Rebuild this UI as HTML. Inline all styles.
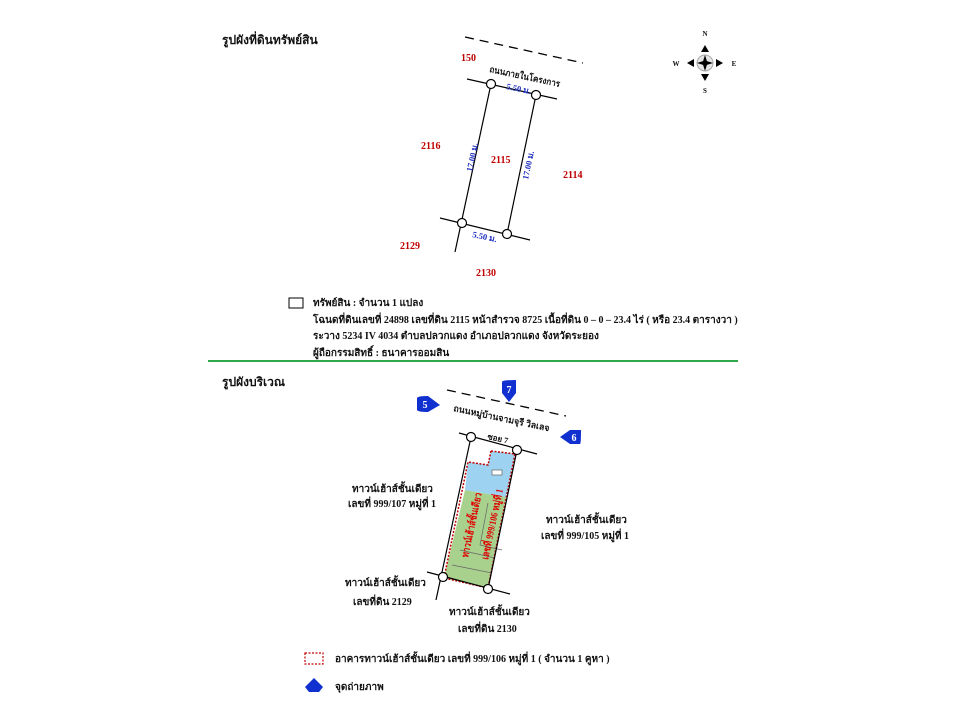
<!DOCTYPE html>
<html><head><meta charset="utf-8"><style>
html,body{margin:0;padding:0;background:#fff;width:960px;height:720px;overflow:hidden}
svg{display:block}
text{font-family:"Liberation Serif","Noto Serif CJK SC","Noto Sans CJK SC",serif;font-weight:bold}
</style></head><body>
<svg width="960" height="720" viewBox="0 0 960 720" xmlns="http://www.w3.org/2000/svg">
<text x="222" y="44" font-size="12" fill="#111">รูปผังที่ดินทรัพย์สิน</text>
<text x="222" y="386" font-size="12" fill="#111">รูปผังบริเวณ</text>

<g transform="translate(705,63)">
<circle r="8" fill="#e4e4e4" stroke="#aaa" stroke-width="1"/>
<polygon points="0,-8 2.5,0 0,8 -2.5,0" fill="#000"/>
<polygon points="-8,0 0,-2.5 8,0 0,2.5" fill="#000"/>
<polygon points="0,-18 -4,-11 4,-11" fill="#000"/>
<polygon points="0,18 -4,11 4,11" fill="#000"/>
<polygon points="-18,0 -11,-4 -11,4" fill="#000"/>
<polygon points="18,0 11,-4 11,4" fill="#000"/>
<text x="0" y="-27" font-size="7" text-anchor="middle" font-family="Liberation Sans" font-weight="normal" fill="#111">N</text>
<text x="0" y="30" font-size="7" text-anchor="middle" font-family="Liberation Sans" font-weight="normal" fill="#111">S</text>
<text x="-29" y="3" font-size="7" text-anchor="middle" font-family="Liberation Sans" font-weight="normal" fill="#111">W</text>
<text x="29" y="3" font-size="7" text-anchor="middle" font-family="Liberation Sans" font-weight="normal" fill="#111">E</text>
</g>

<line x1="465" y1="37" x2="583" y2="63" stroke="#000" stroke-width="1.3" stroke-dasharray="9,6"/>
<line x1="467" y1="79" x2="557" y2="99" stroke="#000" stroke-width="1.2"/>
<line x1="440" y1="218" x2="530" y2="240" stroke="#000" stroke-width="1.2"/>
<line x1="491" y1="84" x2="455" y2="252" stroke="#000" stroke-width="1.2"/>
<line x1="536" y1="95" x2="507" y2="234" stroke="#000" stroke-width="1.2"/>
<g fill="#fff" stroke="#000" stroke-width="1.2">
<circle cx="491" cy="84" r="4.5"/><circle cx="536" cy="95" r="4.5"/>
<circle cx="462" cy="223" r="4.5"/><circle cx="507" cy="234" r="4.5"/>
</g>
<text x="461" y="61" font-size="10" fill="#c00000">150</text>
<text transform="translate(489,72) rotate(12)" font-size="9" fill="#111" textLength="72" lengthAdjust="spacingAndGlyphs">ถนนภายในโครงการ</text>
<text transform="translate(506,89) rotate(12)" font-size="8.5" fill="#1f2fbf">5.50 ม.</text>
<text transform="translate(472,237) rotate(12)" font-size="8.5" fill="#1f2fbf">5.50 ม.</text>
<text transform="translate(472,172) rotate(-78)" font-size="8.5" fill="#1f2fbf">17.00 ม.</text>
<text transform="translate(528,180) rotate(-78)" font-size="8.5" fill="#1f2fbf">17.00 ม.</text>
<text x="421" y="149" font-size="10" fill="#c00000">2116</text>
<text x="491" y="163" font-size="10" fill="#c00000">2115</text>
<text x="563" y="178" font-size="10" fill="#c00000">2114</text>
<text x="400" y="249" font-size="10" fill="#c00000">2129</text>
<text x="476" y="276" font-size="10" fill="#c00000">2130</text>

<rect x="289" y="298" width="14" height="10" fill="#fff" stroke="#000" stroke-width="1"/>
<g font-size="10" fill="#111">
<text x="313" y="306">ทรัพย์สิน : จำนวน 1 แปลง</text>
<text x="313" y="323">โฉนดที่ดินเลขที่ 24898 เลขที่ดิน 2115 หน้าสำรวจ 8725 เนื้อที่ดิน 0 – 0 – 23.4 ไร่ ( หรือ 23.4 ตารางวา )</text>
<text x="313" y="339">ระวาง 5234 IV 4034 ตำบลปลวกแดง อำเภอปลวกแดง จังหวัดระยอง</text>
<text x="313" y="356">ผู้ถือกรรมสิทธิ์ : ธนาคารออมสิน</text>
</g>
<line x1="208" y1="361" x2="738" y2="361" stroke="#2ea84a" stroke-width="2"/>

<line x1="447" y1="390" x2="566" y2="416" stroke="#000" stroke-width="1.3" stroke-dasharray="9,6"/>
<text transform="translate(453,411) rotate(12)" font-size="9" fill="#111" textLength="98" lengthAdjust="spacingAndGlyphs">ถนนหมู่บ้านจามจุรี วิลเลจ</text>
<text transform="translate(487,439) rotate(12)" font-size="8" fill="#111">ซอย 7</text>
<polygon points="465,490 506,497 488,588 444,578" fill="#a9d18e"/>
<polygon points="491,451 515,454 506,497 465,490 468,462 488,465" fill="#9dd3f0"/>
<polygon points="491,451 515,454 488,588 444,578 468,462 488,465" fill="none" stroke="#c00000" stroke-width="1.5" stroke-dasharray="2,1.5"/>
<g stroke="#666" stroke-width="0.7" fill="none">
<line x1="488" y1="503" x2="480" y2="545"/>
<line x1="480" y1="545" x2="502" y2="550"/>
<line x1="460" y1="550" x2="495" y2="558"/>
<line x1="452" y1="565" x2="492" y2="573"/>
<rect x="492" y="470" width="10" height="5" fill="#fff"/>
</g>
<text transform="translate(468,558) rotate(-78)" font-size="10" fill="#e00000" textLength="66" lengthAdjust="spacingAndGlyphs">ทาวน์เฮ้าส์ชั้นเดียว</text>
<text transform="translate(488,560) rotate(-78)" font-size="10" fill="#e00000" textLength="72" lengthAdjust="spacingAndGlyphs">เลขที่ 999/106 หมู่ที่ 1</text>
<line x1="459" y1="433" x2="537" y2="454" stroke="#000" stroke-width="1.2"/>
<line x1="427" y1="572" x2="510" y2="594" stroke="#000" stroke-width="1.2"/>
<line x1="471" y1="437" x2="436" y2="600" stroke="#000" stroke-width="1.2"/>
<line x1="517" y1="450" x2="488" y2="589" stroke="#000" stroke-width="1.2"/>
<g fill="#fff" stroke="#000" stroke-width="1.2">
<circle cx="471" cy="437" r="4.5"/><circle cx="517" cy="450" r="4.5"/>
<circle cx="443" cy="577" r="4.5"/><circle cx="488" cy="589" r="4.5"/>
</g>
<g fill="#fff" text-anchor="middle" font-size="10">
<path d="M417,398 Q418,396 428,396 L440,405 L428,412 Q418,412 417,410 Z" fill="#1030d0"/><text x="425" y="408">5</text>
<path d="M502,382 Q502,380 516,380 L516,393 L509,402 L502,393 Z" fill="#1030d0"/><text x="509" y="393">7</text>
<path d="M581,430 Q581,444 580,444 L570,444 L560,437 L570,430 Z" fill="#1030d0"/><text x="574" y="441">6</text>
</g>
<g font-size="10" fill="#111">
<text x="352" y="492">ทาวน์เฮ้าส์ชั้นเดียว</text>
<text x="348" y="507">เลขที่ 999/107 หมู่ที่ 1</text>
<text x="546" y="523">ทาวน์เฮ้าส์ชั้นเดียว</text>
<text x="541" y="539">เลขที่ 999/105 หมู่ที่ 1</text>
<text x="345" y="586">ทาวน์เฮ้าส์ชั้นเดียว</text>
<text x="353" y="605">เลขที่ดิน 2129</text>
<text x="449" y="615">ทาวน์เฮ้าส์ชั้นเดียว</text>
<text x="458" y="632">เลขที่ดิน 2130</text>
</g>
<rect x="305" y="653" width="18" height="11" fill="#fff" stroke="#c00000" stroke-width="1.2" stroke-dasharray="2,1.5"/>
<text x="335" y="662" font-size="10" fill="#111">อาคารทาวน์เฮ้าส์ชั้นเดียว  เลขที่ 999/106 หมู่ที่ 1 ( จำนวน 1 คูหา )</text>
<path d="M314,678 L323,687 L319,692 L309,692 L305,687 Z" fill="#1030d0"/>
<text x="335" y="690" font-size="10" fill="#111">จุดถ่ายภาพ</text>
</svg>
</body></html>
